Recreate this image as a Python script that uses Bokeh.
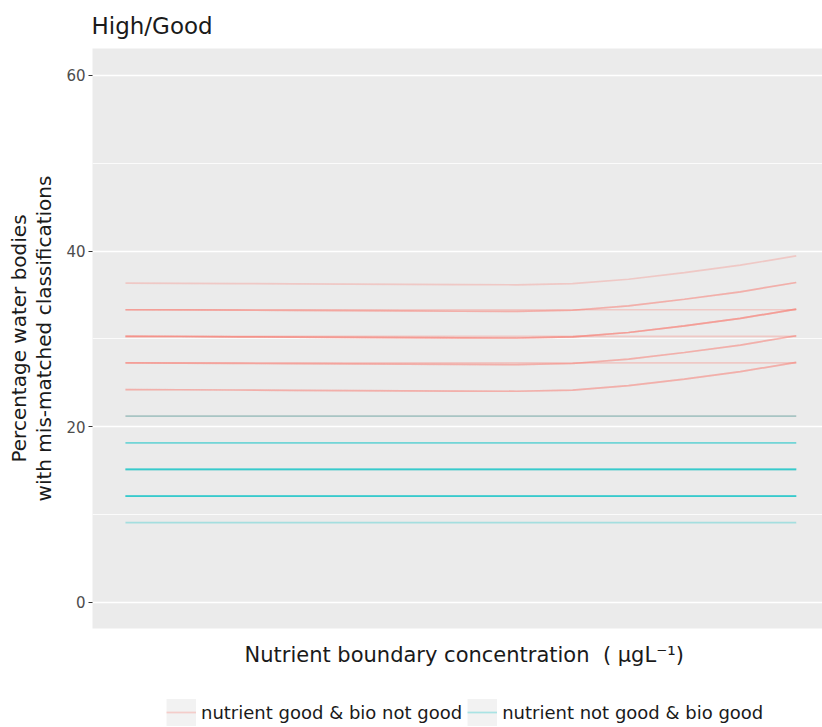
from bokeh.plotting import figure
from bokeh.models import Range1d, FixedTicker, Legend, LegendItem
from bokeh.layouts import column
from bokeh.embed import file_html
from bokeh.resources import INLINE

# ---- data (percentage of water bodies with mis-matched classifications) ----
x_steps = [0, 1, 2, 3, 4, 5, 6, 7, 8, 9, 10, 11, 12]
x_flat = [0, 12]

# "nutrient good & bio not good" curves
red_curve_a = [36.36, 36.34, 36.31, 36.28, 36.25, 36.22, 36.19, 36.17, 36.30, 36.80, 37.55, 38.40, 39.46]
red_curve_b = [33.33, 33.31, 33.28, 33.25, 33.22, 33.19, 33.16, 33.14, 33.27, 33.77, 34.52, 35.37, 36.43]
red_curve_c = [30.30, 30.28, 30.25, 30.22, 30.19, 30.16, 30.13, 30.11, 30.24, 30.74, 31.49, 32.34, 33.40]
red_curve_d = [27.27, 27.25, 27.22, 27.19, 27.16, 27.13, 27.10, 27.08, 27.21, 27.71, 28.46, 29.31, 30.37]
red_curve_e = [24.24, 24.22, 24.19, 24.16, 24.13, 24.10, 24.07, 24.05, 24.18, 24.68, 25.43, 26.28, 27.34]
red_curve_runs = [1, 2, 3, 2, 2]
red_flat_levels = [33.33, 30.30, 27.27, 21.21]
red_flat_runs = [1, 1, 1, 1]

# "nutrient not good & bio good" flat lines
cyan_flat_levels = [21.21, 18.18, 15.15, 12.12, 9.09]
cyan_flat_runs = [1, 2, 4, 4, 1]

y_ticks = [0, 20, 40, 60]
y_minor = [10, 30, 50]
legend_labels = ["nutrient good & bio not good", "nutrient not good & bio good"]

RED = "#F8766D"
CYAN = "#00BFC4"
FONT = "DejaVu Sans"

p = figure(width=822, height=690, output_backend="svg", toolbar_location=None,
           x_range=Range1d(-0.59, 12.47), y_range=Range1d(-2.96, 63.07),
           min_border_left=92, min_border_right=0, min_border_top=48, min_border_bottom=62)

p.background_fill_color = "#EBEBEB"
p.border_fill_color = "white"
p.outline_line_color = None

# title
p.title.text = "High/Good"
p.title.text_font = FONT
p.title.text_font_size = "23px"
p.title.text_font_style = "normal"
p.title.text_color = "#1A1A1A"
p.title.text_line_height = 0.9
p.title.align = "left"
p.title.offset = -1
p.title.standoff = 20

# grids
p.xgrid.visible = False
p.ygrid.grid_line_color = "white"
p.ygrid.grid_line_width = 1.6
p.ygrid.minor_grid_line_color = "white"
p.ygrid.minor_grid_line_width = 0.8

# axes
p.yaxis.ticker = FixedTicker(ticks=y_ticks, minor_ticks=y_minor)
p.yaxis.axis_line_color = None
p.yaxis.major_tick_line_color = "#333333"
p.yaxis.major_tick_out = 4
p.yaxis.major_tick_in = 0
p.yaxis.minor_tick_line_color = None
p.yaxis.major_label_text_font = FONT
p.yaxis.major_label_text_font_size = "15px"
p.yaxis.major_label_text_color = "#4D4D4D"
p.yaxis.major_label_standoff = 3
p.yaxis.axis_label = "Percentage water bodies\nwith mis-matched classifications"
p.yaxis.axis_label_text_font = FONT
p.yaxis.axis_label_text_font_size = "20px"
p.yaxis.axis_label_text_font_style = "normal"
p.yaxis.axis_label_text_color = "#1A1A1A"
p.yaxis.axis_label_text_line_height = 1.05
p.yaxis.axis_label_standoff = 7

p.xaxis.ticker = FixedTicker(ticks=[])
p.xaxis.axis_line_color = None
p.xaxis.major_tick_line_color = None
p.xaxis.minor_tick_line_color = None
p.xaxis.major_tick_out = 0
p.xaxis.major_label_text_font_size = "0px"
p.xaxis.axis_label = "\u00a0\u00a0Nutrient boundary concentration \u00a0( \u03bcgL\u207b\u00b9)"
p.xaxis.axis_label_text_font = FONT
p.xaxis.axis_label_text_font_size = "21px"
p.xaxis.axis_label_text_font_style = "normal"
p.xaxis.axis_label_text_color = "#1A1A1A"
p.xaxis.axis_label_standoff = 14

# ---- lines ----
red_xs, red_ys = [], []
for curve, runs in zip([red_curve_a, red_curve_b, red_curve_c, red_curve_d, red_curve_e], red_curve_runs):
    for _ in range(runs):
        red_xs.append(x_steps)
        red_ys.append(curve)
for lvl, runs in zip(red_flat_levels, red_flat_runs):
    for _ in range(runs):
        red_xs.append(x_flat)
        red_ys.append([lvl, lvl])

cyan_xs, cyan_ys = [], []
for lvl, runs in zip(cyan_flat_levels, cyan_flat_runs):
    for _ in range(runs):
        cyan_xs.append(x_flat)
        cyan_ys.append([lvl, lvl])

p.multi_line(red_xs, red_ys, line_color=RED, line_alpha=0.3, line_width=1.7)
p.multi_line(cyan_xs, cyan_ys, line_color=CYAN, line_alpha=0.3, line_width=1.7)

# ---- legend strip below the plot ----
lg = figure(width=822, height=37, output_backend="svg", toolbar_location=None,
            x_range=Range1d(0, 730), y_range=Range1d(0, 37),
            x_axis_location=None, y_axis_location=None,
            min_border_left=92, min_border_right=0, min_border_top=0, min_border_bottom=0)
lg.outline_line_color = None
lg.xgrid.visible = False
lg.ygrid.visible = False
lg.background_fill_color = "white"

key_bg1 = lg.line([-50, -49], [0, 0], line_color="#F2F2F2", line_width=27, line_cap="butt")
key_r = lg.line([-50, -49], [0, 0], line_color=RED, line_alpha=0.3, line_width=1.7)
key_bg2 = lg.line([-50, -49], [0, 0], line_color="#F2F2F2", line_width=27, line_cap="butt")
key_c = lg.line([-50, -49], [0, 0], line_color=CYAN, line_alpha=0.3, line_width=1.7)

legend = Legend(items=[LegendItem(label=legend_labels[0], renderers=[key_bg1, key_r]),
                       LegendItem(label=legend_labels[1], renderers=[key_bg2, key_c])],
                orientation="horizontal", location=(74, 1),
                glyph_width=30, glyph_height=28, label_standoff=5, spacing=5,
                padding=0, margin=0, border_line_color=None, background_fill_alpha=0,
                label_text_font=FONT, label_text_font_size="18px", label_text_color="#1A1A1A")
lg.add_layout(legend, "center")

open("out.html", "w").write(file_html(column(p, lg, spacing=0), INLINE))
